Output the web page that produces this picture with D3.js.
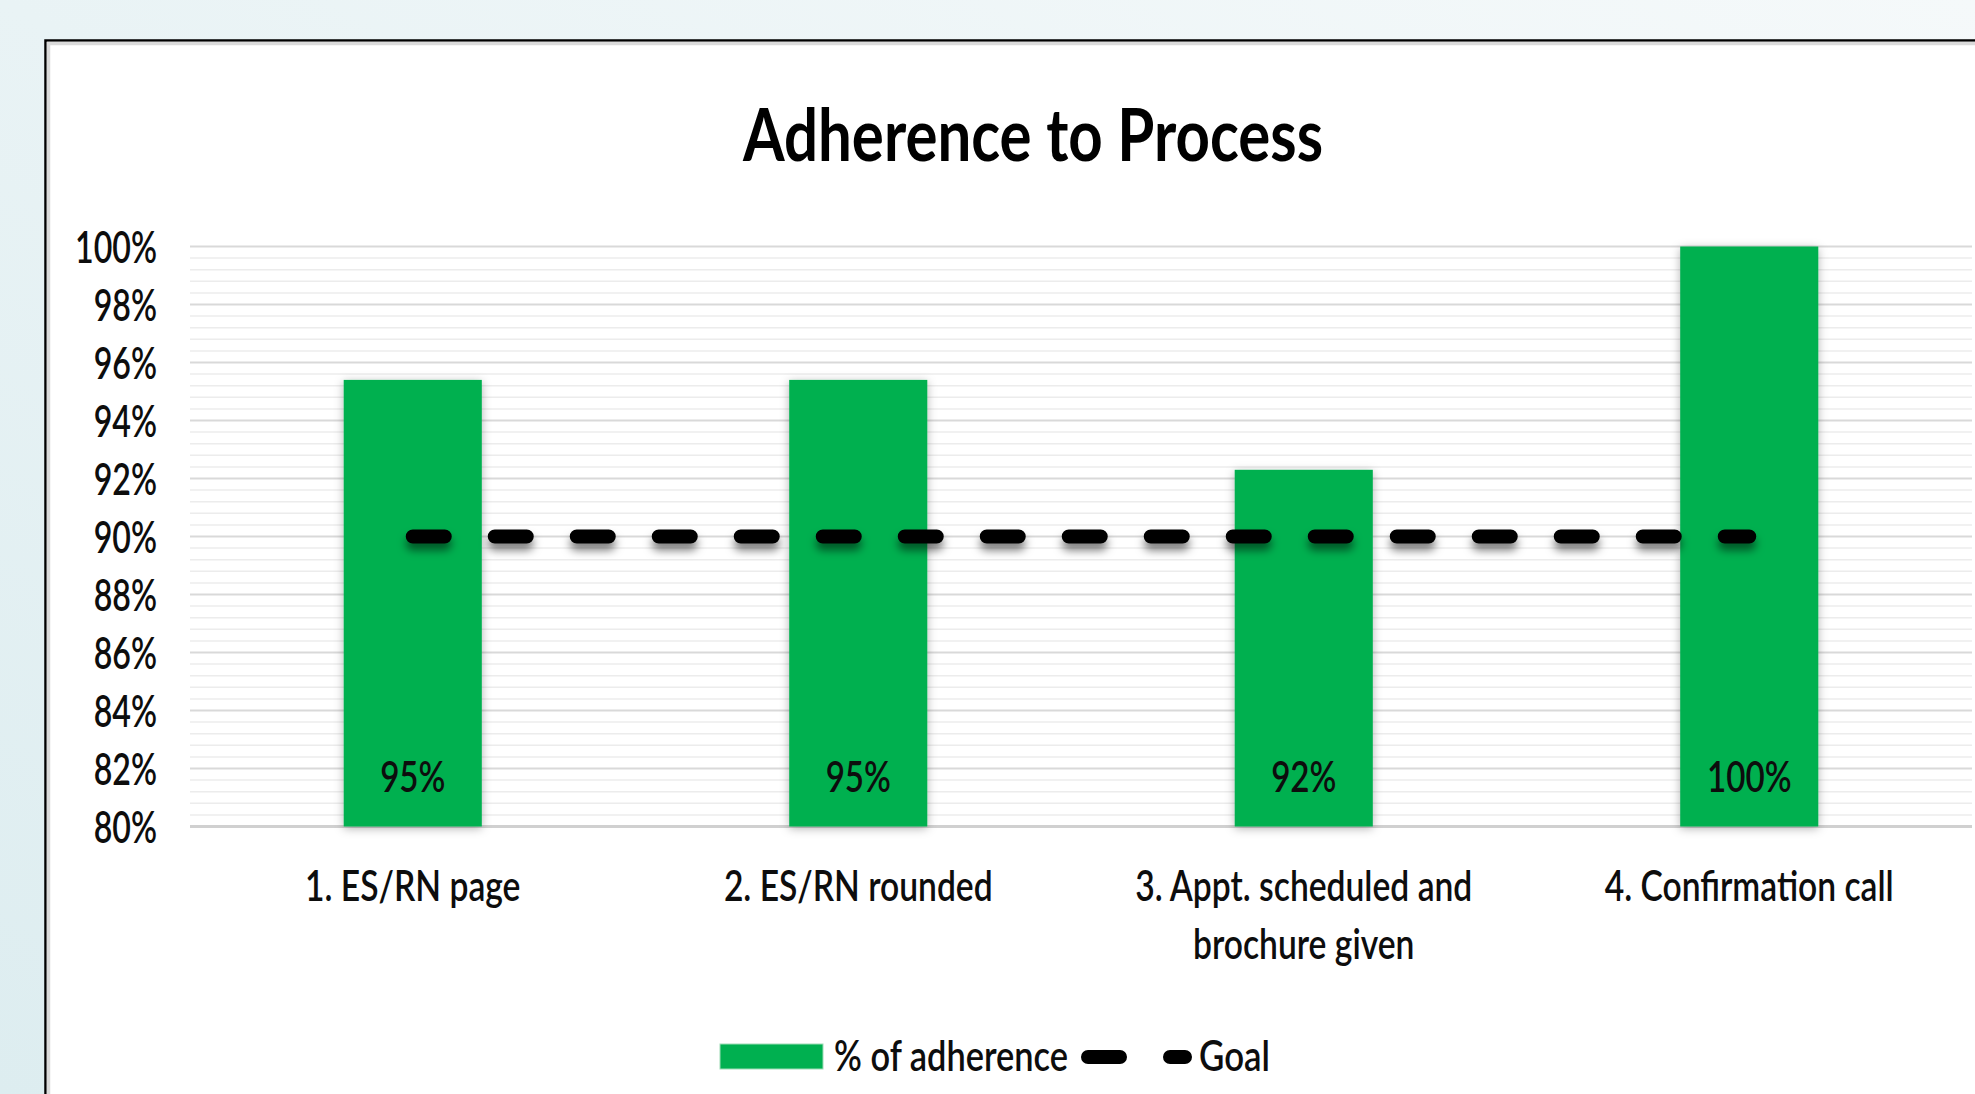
<!DOCTYPE html>
<html>
<head>
<meta charset="utf-8">
<script src="https://cdn.jsdelivr.net/npm/d3@7"></script>
<style>
  body { margin: 0; overflow: hidden; }
  svg { display: block; font-family: Lato, "Open Sans", sans-serif; }
</style>
</head>
<body>
<script>
  // Data
  const categories = ['1. ES/RN page', '2. ES/RN rounded', '3. Appt. scheduled and brochure given', '4. Confirmation call'];
  const adherence = [0.954, 0.954, 0.923, 1.0];
  const goal = [0.9, 0.9, 0.9, 0.9];
  const yTicks = [0.80, 0.82, 0.84, 0.86, 0.88, 0.90, 0.92, 0.94, 0.96, 0.98, 1.00];
  const seriesNames = ['% of adherence', 'Goal'];

  const W = 1975;
  const H = 1094;
  const green = '#00B050';
  const ink = '#0d0d0d';

  const svg = d3.select('body')
    .append('svg')
    .attr('width', W)
    .attr('height', H);

  const defs = svg.append('defs');

  const bg = defs.append('linearGradient')
    .attr('id', 'bg')
    .attr('x1', 0).attr('y1', 1).attr('x2', 1).attr('y2', 0);
  bg.append('stop').attr('offset', '0%').attr('stop-color', '#ddedf0');
  bg.append('stop').attr('offset', '100%').attr('stop-color', '#f5f9fa');

  const barShadow = defs.append('filter')
    .attr('id', 'barShadow')
    .attr('x', '-20%').attr('y', '-10%').attr('width', '140%').attr('height', '120%');
  barShadow.append('feDropShadow')
    .attr('dx', 0).attr('dy', 2).attr('stdDeviation', 5)
    .attr('flood-color', '#000').attr('flood-opacity', 0.3);

  // flat path -> region in user space, otherwise the filter clips everything
  const lineShadow = defs.append('filter')
    .attr('id', 'lineShadow')
    .attr('filterUnits', 'userSpaceOnUse')
    .attr('x', 300).attr('y', 480).attr('width', 1600).attr('height', 120);
  lineShadow.append('feDropShadow')
    .attr('dx', 0).attr('dy', 7).attr('stdDeviation', 4)
    .attr('flood-color', '#000').attr('flood-opacity', 0.5);

  // Background and chart box
  svg.append('rect')
    .attr('width', W)
    .attr('height', H)
    .attr('fill', 'url(#bg)');

  svg.append('rect')
    .attr('x', 45.5)
    .attr('y', 40.5)
    .attr('width', W)
    .attr('height', H)
    .attr('fill', '#fff')
    .attr('stroke', '#000')
    .attr('stroke-width', 2.5);

  svg.append('path')
    .attr('d', `M48.5,${H} V43.5 H${W}`)
    .attr('fill', 'none')
    .attr('stroke', '#dadada')
    .attr('stroke-width', 3.5);

  // Scales
  const x = d3.scaleBand()
    .domain(categories)
    .range([190, 1972])
    .paddingInner(0.69)
    .paddingOuter(0.345);

  const y = d3.scaleLinear()
    .domain([0.8, 1.0])
    .range([826.5, 246.5]);

  const bw = x.bandwidth();
  const cx = c => x(c) + bw / 2;

  // Gridlines
  svg.append('g')
    .selectAll('line')
    .data(d3.range(0.804, 1.0, 0.004).filter(v => Math.round(v * 1000) % 20 !== 0))
    .join('line')
    .attr('x1', 190).attr('x2', 1972)
    .attr('y1', d => y(d)).attr('y2', d => y(d))
    .attr('stroke', '#ececec')
    .attr('stroke-width', 1.5);

  svg.append('g')
    .selectAll('line')
    .data(yTicks)
    .join('line')
    .attr('x1', 190).attr('x2', 1972)
    .attr('y1', d => y(d)).attr('y2', d => y(d))
    .attr('stroke', d => d === 0.8 ? '#d0d0d0' : '#d9d9d9')
    .attr('stroke-width', d => d === 0.8 ? 3 : 2);

  // Y axis
  const yAxis = svg.append('g')
    .attr('transform', 'translate(190,0)')
    .call(d3.axisLeft(y).tickValues(yTicks).tickFormat(d3.format('.0%')).tickSize(0));
  yAxis.select('.domain').remove();
  yAxis.selectAll('text')
    .attr('x', -33 / 0.73)
    .attr('dy', '0.36em')
    .attr('transform', 'scale(0.73,1)')
    .attr('font-family', 'Lato, sans-serif')
    .attr('font-size', 44)
    .attr('font-weight', 600)
    .attr('fill', ink);

  // Bars
  svg.append('g')
    .selectAll('rect')
    .data(adherence)
    .join('rect')
    .attr('x', (d, i) => x(categories[i]))
    .attr('y', d => y(d))
    .attr('width', bw)
    .attr('height', d => y(0.8) - y(d))
    .attr('fill', green)
    .attr('filter', 'url(#barShadow)');

  // Bar labels
  svg.append('g')
    .selectAll('text')
    .data(adherence)
    .join('text')
    .attr('transform', (d, i) => `translate(${cx(categories[i])},${y(0.8) - 35}) scale(0.77,1)`)
    .attr('text-anchor', 'middle')
    .attr('font-size', 43)
    .attr('font-weight', 600)
    .attr('fill', ink)
    .text(d => d3.format('.0%')(d));

  // Goal line
  const line = d3.line()
    .x((d, i) => cx(categories[i]))
    .y(d => y(d));

  svg.append('path')
    .datum(goal)
    .attr('d', line)
    .attr('fill', 'none')
    .attr('stroke', '#000')
    .attr('stroke-width', 14)
    .attr('stroke-linecap', 'round')
    .attr('stroke-dasharray', '32 50')
    .attr('filter', 'url(#lineShadow)');

  // X axis
  const SXC = 0.8;
  const labelY = 75;
  const xAxis = svg.append('g')
    .attr('transform', `translate(0,${y(0.8)})`)
    .call(d3.axisBottom(x).tickSize(0));
  xAxis.select('.domain').remove();
  xAxis.selectAll('text')
    .attr('y', labelY)
    .attr('dy', 0)
    .attr('transform', `scale(${SXC},1)`)
    .attr('font-family', 'Lato, sans-serif')
    .attr('font-size', 42)
    .attr('font-weight', 600)
    .attr('fill', ink)
    .each(function (d) {
      const t = d3.select(this);
      const words = d.split(' ');
      t.text(null);
      let row = [];
      let tspan = t.append('tspan').attr('x', 0).attr('y', labelY);
      let n = 0;
      words.forEach(w => {
        row.push(w);
        tspan.text(row.join(' '));
        if (tspan.node().getComputedTextLength() * SXC > 390 && row.length > 1) {
          row.pop();
          tspan.text(row.join(' '));
          row = [w];
          n += 1;
          tspan = t.append('tspan').attr('x', 0).attr('y', labelY + n * 58).text(w);
        }
      });
    });

  // Title
  svg.append('text')
    .attr('x', 1033)
    .attr('y', 161)
    .attr('text-anchor', 'middle')
    .attr('font-size', 72)
    .attr('font-weight', 700)
    .attr('textLength', 580)
    .attr('lengthAdjust', 'spacingAndGlyphs')
    .attr('fill', '#000')
    .text('Adherence to Process');

  // Legend
  const leg = svg.append('g').attr('id', 'legend');

  leg.append('rect')
    .attr('x', 720)
    .attr('y', 1044)
    .attr('width', 103)
    .attr('height', 25)
    .attr('fill', green)
    .attr('stroke', '#9ddcb6')
    .attr('stroke-width', 1);

  leg.append('text')
    .attr('x', 834)
    .attr('y', 1071)
    .attr('font-size', 42)
    .attr('font-weight', 600)
    .attr('textLength', 234)
    .attr('lengthAdjust', 'spacingAndGlyphs')
    .attr('fill', ink)
    .text(seriesNames[0]);

  leg.append('line')
    .attr('x1', 1088).attr('x2', 1185)
    .attr('y1', 1057).attr('y2', 1057)
    .attr('stroke', '#000')
    .attr('stroke-width', 14)
    .attr('stroke-linecap', 'round')
    .attr('stroke-dasharray', '32 50');

  leg.append('text')
    .attr('x', 1199)
    .attr('y', 1071)
    .attr('font-size', 42)
    .attr('font-weight', 600)
    .attr('textLength', 71)
    .attr('lengthAdjust', 'spacingAndGlyphs')
    .attr('fill', ink)
    .text(seriesNames[1]);
</script>
</body>
</html>
